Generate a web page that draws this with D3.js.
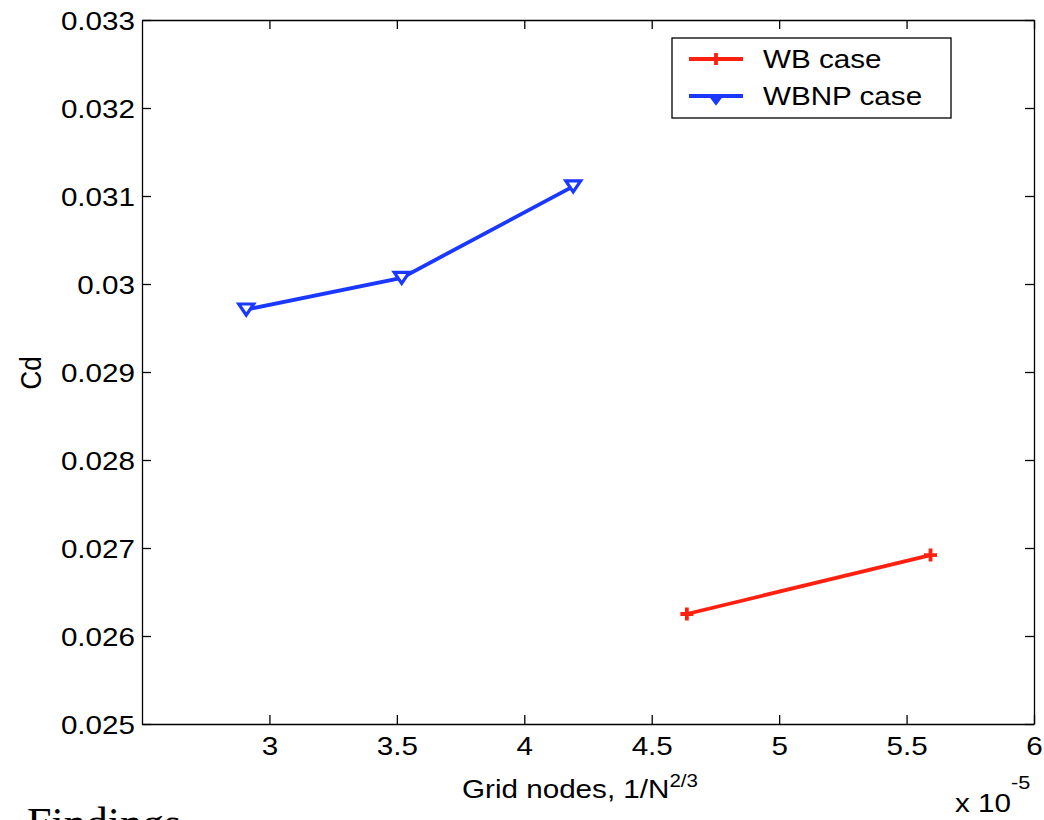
<!DOCTYPE html>
<html>
<head>
<meta charset="utf-8">
<script src="https://cdn.jsdelivr.net/npm/d3@7"></script>
<style>
  html, body { margin: 0; padding: 0; background: #fff; }
  svg { display: block; }
  text { font-family: "Liberation Sans", Arial, Helvetica, sans-serif; fill: #000; }
</style>
</head>
<body>
<svg id="chart" width="1044" height="820"></svg>
<script>
// ---- data ----
const xTicks = [3, 3.5, 4, 4.5, 5, 5.5, 6];
const xTickLabels = ["3", "3.5", "4", "4.5", "5", "5.5", "6"];
const yTicks = [0.025, 0.026, 0.027, 0.028, 0.029, 0.030, 0.031, 0.032, 0.033];
const yTickLabels = ["0.025", "0.026", "0.027", "0.028", "0.029", "0.03", "0.031", "0.032", "0.033"];
const wbX = [4.638, 5.594];
const wbY = [0.02625, 0.02692];
const wbnpX = [2.909, 3.519, 4.192];
const wbnpY = [0.02971, 0.03007, 0.03111];
const seriesNames = ["WB case", "WBNP case"];

// ---- layout ----
const W = 1044, H = 820;
const L = 142, R = 1034, T = 20, B = 724;
const SX = 1.14; // horizontal text stretch seen in reference
const FS = 26;
const red = "#ff2010", blue = "#1a38ff";
const LW = 3.8;

const svg = d3.select("#chart");
svg.append("rect").attr("width", W).attr("height", H).attr("fill", "#fff");

const x = d3.scaleLinear().domain([2.5, 6]).range([L, R]);
const y = d3.scaleLinear().domain([0.025, 0.033]).range([B, T]);

// bottom axis
const gx = svg.append("g").attr("transform", `translate(0,${B})`)
  .call(d3.axisBottom(x).tickValues(xTicks).tickFormat((d, i) => xTickLabels[i])
    .tickSizeInner(-9).tickSizeOuter(0).tickPadding(13));
// top axis (ticks only)
const gxt = svg.append("g").attr("transform", `translate(0,${T})`)
  .call(d3.axisTop(x).tickValues(xTicks).tickFormat("").tickSizeInner(-9).tickSizeOuter(0));
// left axis
const gy = svg.append("g").attr("transform", `translate(${L},0)`)
  .call(d3.axisLeft(y).tickValues(yTicks).tickFormat((d, i) => yTickLabels[i])
    .tickSizeInner(-9).tickSizeOuter(0).tickPadding(7));
// right axis (ticks only)
const gyr = svg.append("g").attr("transform", `translate(${R},0)`)
  .call(d3.axisRight(y).tickValues(yTicks).tickFormat("").tickSizeInner(-9).tickSizeOuter(0));

[gx, gxt, gy, gyr].forEach(g => {
  g.selectAll("path.domain").attr("stroke", "#000").attr("stroke-width", 1.3);
  g.selectAll(".tick line").attr("stroke", "#000").attr("stroke-width", 1.3);
});
gx.selectAll("text").attr("font-size", FS).attr("font-family", null).attr("dy", "0.71em")
  .each(function() { d3.select(this).attr("transform", `scale(${SX},1)`); });
gy.selectAll("text").attr("font-size", FS).attr("font-family", null).attr("dy", "0.35em")
  .each(function() {
    const t = d3.select(this);
    t.attr("x", (+t.attr("x")) / SX).attr("transform", `scale(${SX},1)`);
  });

// axis labels
const xl = svg.append("text").attr("transform", `translate(462,798) scale(${SX},1)`)
  .attr("font-size", FS);
xl.append("tspan").text("Grid nodes, 1/N");
xl.append("tspan").attr("font-size", 18).attr("dy", -11).text("2/3");

svg.append("text").attr("transform", `translate(41,373) rotate(-90) scale(1,${SX})`)
  .attr("font-size", FS).attr("text-anchor", "middle").text("Cd");

const ex = svg.append("text").attr("transform", `translate(955,812) scale(${SX},1)`)
  .attr("font-size", FS);
ex.append("tspan").text("x 10");
ex.append("tspan").attr("font-size", 19).attr("dy", -23).text("-5");

// caption text cut off at bottom edge (as in reference)
svg.append("text").attr("x", 27).attr("y", 838)
  .style("font-family", "'Liberation Serif', 'Times New Roman', serif")
  .attr("font-size", 44).text("Findings");

const line = d3.line().x(d => x(d[0])).y(d => y(d[1]));
const wb = wbX.map((v, i) => [v, wbY[i]]);
const wbnp = wbnpX.map((v, i) => [v, wbnpY[i]]);

const plot = svg.append("g");
plot.append("path").datum(wb).attr("d", line).attr("fill", "none")
  .attr("stroke", red).attr("stroke-width", LW);
plot.append("path").datum(wbnp).attr("d", line).attr("fill", "none")
  .attr("stroke", blue).attr("stroke-width", LW);

function plus(g, cx, cy, s) {
  g.append("path").attr("d", `M${cx - s},${cy}H${cx + s}M${cx},${cy - s}V${cy + s}`)
    .attr("stroke", red).attr("stroke-width", LW).attr("fill", "none");
}
function tri(g, cx, cy, s) {
  const w = s * 1.15, h = s * 0.85;
  g.append("path").attr("d", `M${cx - w},${cy - h}L${cx + w},${cy - h}L${cx},${cy + h}Z`)
    .attr("stroke", blue).attr("stroke-width", 3.2).attr("fill", "#fff").attr("stroke-linejoin", "miter");
}
wb.forEach(d => plus(plot, x(d[0]), y(d[1]), 6.5));
wbnp.forEach(d => tri(plot, x(d[0]), y(d[1]), 6.5));

// legend
const lg = svg.append("g");
lg.append("rect").attr("x", 672).attr("y", 38).attr("width", 279).attr("height", 80)
  .attr("fill", "#fff").attr("stroke", "#000").attr("stroke-width", 1.3);
const rows = [{ y: 59, c: red, m: "plus" }, { y: 96, c: blue, m: "tri" }];
rows.forEach((r, i) => {
  lg.append("line").attr("x1", 689).attr("x2", 743).attr("y1", r.y).attr("y2", r.y)
    .attr("stroke", r.c).attr("stroke-width", LW);
  if (r.m === "plus") plus(lg, 716, r.y, 6);
  else {
    lg.append("path").attr("d", `M${716 - 6},${r.y}L${716 + 6},${r.y}L${716},${r.y + 8}Z`)
      .attr("fill", blue).attr("stroke", blue).attr("stroke-width", 2);
  }
  lg.append("text").attr("transform", `translate(763,${r.y + 9}) scale(${SX},1)`)
    .attr("font-size", FS).text(seriesNames[i]);
});
</script>
</body>
</html>
